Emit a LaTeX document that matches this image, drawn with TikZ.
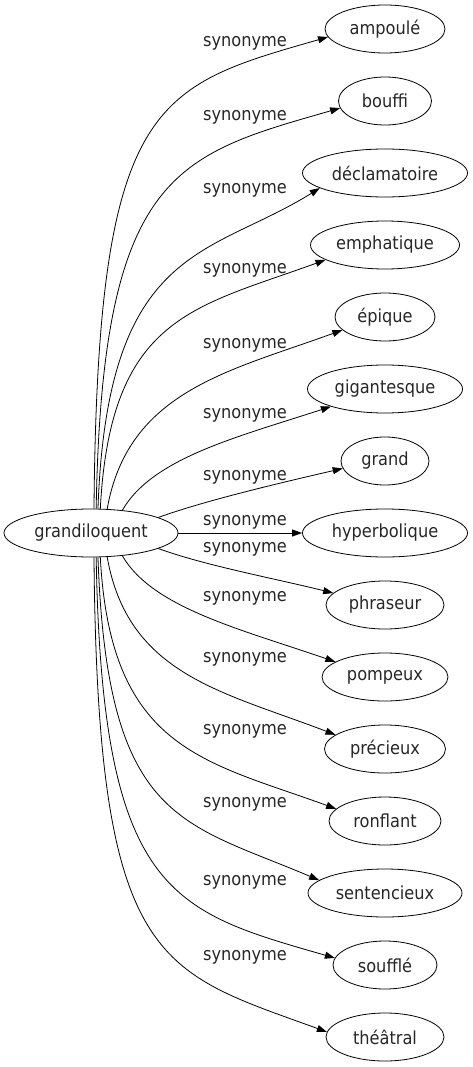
\documentclass[tikz,border=0pt]{standalone}
\usepackage{fontspec}
\setmainfont{DejaVu Sans}[FakeStretch=0.9]
\usetikzlibrary{shapes.geometric,arrows.meta}
\begin{document}
\begin{tikzpicture}[x=1pt,y=1pt,
  every node/.style={font=\fontsize{18}{20}\selectfont, text=black!85},
  term/.style={ellipse,draw,line width=0.8pt,inner sep=0pt,minimum height=48pt},
  lbl/.style={inner sep=0pt},
  conn/.style={draw,line width=0.8pt,-{Triangle[length=10pt,width=7pt]}}]
\useasboundingbox (0,0) rectangle (473,-1067);
\node[term,minimum width=174pt] (g) at (91,-533) {grandiloquent};
\node[term,minimum width=120pt] (t1) at (385,-29) {ampoulé};
\node[term,minimum width=93pt] (t2) at (385,-101) {bouffi};
\node[term,minimum width=165pt] (t3) at (385,-173) {déclamatoire};
\node[term,minimum width=149pt] (t4) at (385,-245) {emphatique};
\node[term,minimum width=100pt] (t5) at (385,-317) {épique};
\node[term,minimum width=155pt] (t6) at (385,-389) {gigantesque};
\node[term,minimum width=88pt] (t7) at (385,-461) {grand};
\node[term,minimum width=165pt] (t8) at (385,-533) {hyperbolique};
\node[term,minimum width=118pt] (t9) at (385,-605) {phraseur};
\node[term,minimum width=126pt] (t10) at (385,-677) {pompeux};
\node[term,minimum width=121pt] (t11) at (385,-749) {précieux};
\node[term,minimum width=112pt] (t12) at (385,-821) {ronflant};
\node[term,minimum width=154pt] (t13) at (385,-893) {sentencieux};
\node[term,minimum width=104pt] (t14) at (385,-965) {soufflé};
\node[term,minimum width=118pt] (t15) at (385,-1037) {théâtral};

\node[lbl] (l1) at (245,-43) {synonyme};
\node[lbl] (l2) at (245,-117) {synonyme};
\node[lbl] (l3) at (245,-190) {synonyme};
\node[lbl] (l4) at (245,-270) {synonyme};
\node[lbl] (l5) at (245,-345) {synonyme};
\node[lbl] (l6) at (245,-415) {synonyme};
\node[lbl] (l7) at (245,-477) {synonyme};
\node[lbl] (l8) at (245,-522) {synonyme};
\node[lbl] (l9) at (245,-549) {synonyme};
\node[lbl] (l10) at (245,-598) {synonyme};
\node[lbl] (l11) at (245,-659) {synonyme};
\node[lbl] (l12) at (245,-731) {synonyme};
\node[lbl] (l13) at (245,-804) {synonyme};
\node[lbl] (l14) at (245,-882) {synonyme};
\node[lbl] (l15) at (245,-957) {synonyme};

\draw[conn] (g.83) .. controls +(89.5:409) and +(196:180) .. (t1.188);
\draw[conn] (g.78) .. controls +(89:337) and +(196:170) .. (t2.189);
\draw[conn] (g.74) .. controls +(88:265) and +(212:130) .. (t3.193);
\draw[conn] (g.69) .. controls +(87:193) and +(200:140) .. (t4.194);
\draw[conn] (g.56) .. controls +(80:120) and +(200:120) .. (t5.197);
\draw[conn] (g.36) .. controls +(60:60) and +(198:100) .. (t6.198);
\draw[conn] (g.13) .. controls +(20:50) and +(193:60) .. (t7.190);
\draw[conn] (g.east) -- (t8.west);
\draw[conn] (g.-13) .. controls +(-20:50) and +(166:60) .. (t9.167);
\draw[conn] (g.-36) .. controls +(-60:60) and +(161:100) .. (t10.163);
\draw[conn] (g.-56) .. controls +(-80:120) and +(159:120) .. (t11.164);
\draw[conn] (g.-69) .. controls +(-87:193) and +(160:140) .. (t12.166);
\draw[conn] (g.-74) .. controls +(-88:265) and +(157:150) .. (t13.169);
\draw[conn] (g.-78) .. controls +(-89:337) and +(164:170) .. (t14.172);
\draw[conn] (g.-83) .. controls +(-89.5:409) and +(160:180) .. (t15.175);
\end{tikzpicture}
\end{document}
